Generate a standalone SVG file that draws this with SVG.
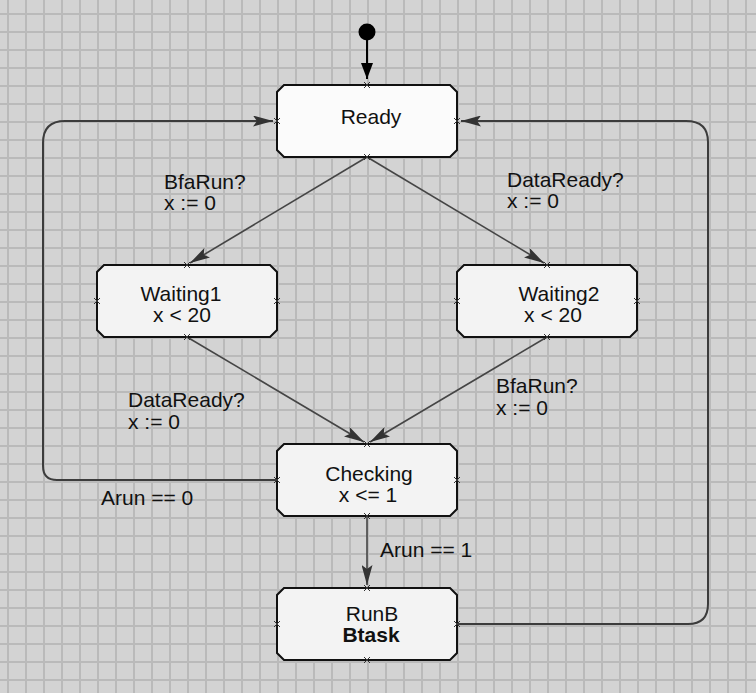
<svg xmlns="http://www.w3.org/2000/svg" width="756" height="693" viewBox="0 0 756 693">
<style>
  text { font-family: "Liberation Sans", Arial, sans-serif; font-size: 21px; fill: #111; }
  .c { text-anchor: middle; }
  .b { font-weight: bold; }
  .box { stroke: #111; stroke-width: 2; }
  .edge { fill: none; stroke: #454545; stroke-width: 1.6; }
  .loop { fill: none; stroke: #3c3c3c; stroke-width: 2; }
  .xm { fill: none; stroke: #333; stroke-width: 1; }
</style>
<defs>
  <pattern id="grid" x="7" y="13" width="18" height="18" patternUnits="userSpaceOnUse">
    <rect width="18" height="18" fill="#d3d3d3"/>
    <rect x="0" y="0" width="2" height="18" fill="#bababa"/>
    <rect x="0" y="0" width="18" height="2" fill="#bababa"/>
  </pattern>
  <marker id="arr" viewBox="0 0 20 11" refX="20" refY="5.5" markerWidth="20" markerHeight="11" markerUnits="userSpaceOnUse" orient="auto">
    <path d="M0,0 L20,5.5 L0,11 L4,5.5 z" fill="#333"/>
  </marker>
  <marker id="arrI" viewBox="0 0 16 12" refX="16" refY="6" markerWidth="16" markerHeight="12" markerUnits="userSpaceOnUse" orient="auto">
    <path d="M0,0 L16,6 L0,12 z" fill="#000"/>
  </marker>
  <path id="x" class="xm" d="M-3,-3 L3,3 M-3,3 L3,-3"/>
</defs>
<rect width="756" height="693" fill="url(#grid)"/>

<g id="connectors">
  <circle id="init" cx="367" cy="32" r="8.5" fill="#000"/>
  <line x1="367" y1="40" x2="367" y2="79" stroke="#000" stroke-width="2" marker-end="url(#arrI)"/>
  <line class="edge" x1="367" y1="157" x2="190" y2="263" marker-end="url(#arr)"/>
  <line class="edge" x1="367" y1="157" x2="544" y2="263" marker-end="url(#arr)"/>
  <line class="edge" x1="187" y1="337" x2="364" y2="442" marker-end="url(#arr)"/>
  <line class="edge" x1="547" y1="337" x2="370" y2="442" marker-end="url(#arr)"/>
  <line class="edge" x1="367" y1="516" x2="367" y2="585" marker-end="url(#arr)"/>
  <path class="loop" d="M277,480 H57 Q43,480 43,466 V143 Q43,121 65,121 H273" marker-end="url(#arr)"/>
  <path class="loop" d="M457,624 H688 Q708,624 708,604 V142 Q708,121 686,121 H461" marker-end="url(#arr)"/>
</g>

<g id="labels">
  <text x="164" y="189">BfaRun?</text>
  <text x="164" y="210">x := 0</text>
  <text x="507" y="187">DataReady?</text>
  <text x="507" y="208">x := 0</text>
  <text x="128" y="407">DataReady?</text>
  <text x="128" y="429">x := 0</text>
  <text x="496" y="393">BfaRun?</text>
  <text x="496" y="415">x := 0</text>
  <text x="101" y="505">Arun == 0</text>
  <text x="380" y="557">Arun == 1</text>
</g>

<g id="Ready">
  <path class="box" fill="#fbfbfb" d="M284,85 H450 L457,92 V150 L450,157 H284 L277,150 V92 z"/>
  <text class="c" x="371" y="124">Ready</text>
  <use href="#x" x="367" y="85"/><use href="#x" x="367" y="157"/><use href="#x" x="277" y="121"/><use href="#x" x="457" y="121"/>
</g>
<g id="Waiting1">
  <path class="box" fill="#f3f3f3" d="M104,265 H270 L277,272 V330 L270,337 H104 L97,330 V272 z"/>
  <text class="c" x="181" y="301">Waiting1</text>
  <text class="c" x="182" y="322">x &lt; 20</text>
  <use href="#x" x="187" y="265"/><use href="#x" x="187" y="337"/><use href="#x" x="97" y="301"/><use href="#x" x="277" y="301"/>
</g>
<g id="Waiting2">
  <path class="box" fill="#f3f3f3" d="M464,265 H630 L637,272 V330 L630,337 H464 L457,330 V272 z"/>
  <text class="c" x="559" y="301">Waiting2</text>
  <text class="c" x="553" y="322">x &lt; 20</text>
  <use href="#x" x="547" y="265"/><use href="#x" x="547" y="337"/><use href="#x" x="457" y="301"/><use href="#x" x="637" y="301"/>
</g>
<g id="Checking">
  <path class="box" fill="#f3f3f3" d="M284,444 H450 L457,451 V509 L450,516 H284 L277,509 V451 z"/>
  <text class="c" x="369" y="481">Checking</text>
  <text class="c" x="368" y="502">x &lt;= 1</text>
  <use href="#x" x="367" y="444"/><use href="#x" x="367" y="516"/><use href="#x" x="277" y="480"/><use href="#x" x="457" y="480"/>
</g>
<g id="RunB">
  <path class="box" fill="#f3f3f3" d="M284,588 H450 L457,595 V653 L450,660 H284 L277,653 V595 z"/>
  <text class="c" x="372" y="621">RunB</text>
  <text class="c b" x="371" y="642">Btask</text>
  <use href="#x" x="367" y="588"/><use href="#x" x="367" y="660"/><use href="#x" x="277" y="624"/><use href="#x" x="457" y="624"/>
</g>
</svg>
